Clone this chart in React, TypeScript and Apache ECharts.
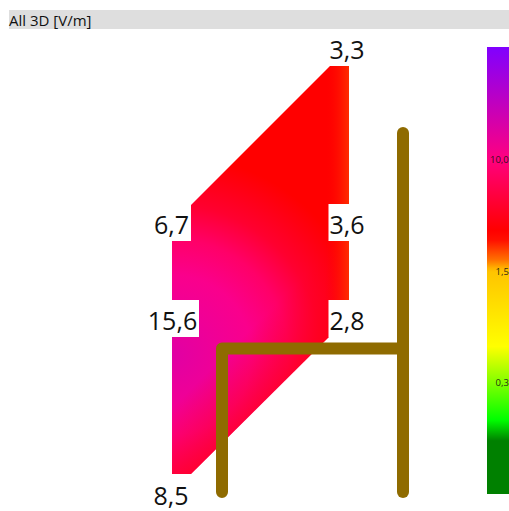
import React, { useEffect, useRef } from "react";
import * as echarts from "echarts";

const titleText = "All 3D [V/m]";
const surfacePoints = [[330, 66], [349, 66], [349, 317], [191, 474], [172, 474], [172, 224]];
const fieldLabels = ["3,3", "6,7", "3,6", "15,6", "2,8", "8,5"];
const labelCentres = [[347, 48.5], [171.5, 223.5], [347, 223.5], [172.5, 319.5], [347, 319.5], [171, 494.5]];
const labelBoxes = [[329, 32, 366, 66], [152, 204, 191, 241], [328.5, 204, 366, 241], [147, 300, 199, 337], [328.5, 300, 366, 337], [152, 478, 190, 511]];
const beamPath = [[222, 492], [222, 348.5], [403, 348.5]];
const postPath = [[403, 133], [403, 492]];
const scaleBand = [[487, 47], [509, 494]];
const scaleLabels = ["10,0", "1,5", "0,3"];
const scaleLabelPos = [[490, 159], [495.5, 271], [495.5, 382]];
const scaleStops: [number, string][] = [
  [0, "#8000ff"], [0.25, "#ff0080"], [0.41, "#ff0000"], [0.432, "#ff1000"], [0.476, "#ff7000"], [0.494, "#ffb000"], [0.503, "#ffc400"],
  [0.67, "#ffff00"], [0.834, "#00ff00"], [0.881, "#008000"], [1, "#008000"],
];

const FONT = "'Open Sans', sans-serif";

function surfaceItem(params: any, api: any) {
  const pts = surfacePoints.map((p) => api.coord(p));
  const c = api.coord([172, 355]);
  const radial = new echarts.graphic.RadialGradient(c[0], c[1], 200, [
    { offset: 0, color: "#e000a4" },
    { offset: 0.2, color: "#ee0098" },
    { offset: 0.4, color: "#fa008c" },
    { offset: 0.58, color: "#ff0068" },
    { offset: 0.75, color: "#ff0030" },
    { offset: 1, color: "#ff0000" },
  ], true as any);
  const edgeA = api.coord([325, 0]);
  const edgeB = api.coord([349, 0]);
  const edge = new echarts.graphic.LinearGradient(edgeA[0], 0, edgeB[0], 0, [
    { offset: 0, color: "rgba(255,0,0,0)" },
    { offset: 1, color: "rgba(255,45,0,1)" },
  ], true as any);
  const diagA = api.coord([246, 334]);
  const diagB = api.coord([289, 377]);
  const diag = new echarts.graphic.LinearGradient(diagA[0], diagA[1], diagB[0], diagB[1], [
    { offset: 0, color: "rgba(255,0,16,0)" },
    { offset: 1, color: "rgba(255,0,16,0.6)" },
  ], true as any);
  return {
    type: "group",
    children: [
      { type: "polygon", shape: { points: pts }, style: { fill: radial } },
      { type: "polygon", shape: { points: pts }, style: { fill: diag } },
      { type: "polygon", shape: { points: pts }, style: { fill: edge } },
    ],
  };
}

function labelItem(params: any, api: any) {
  const i = params.dataIndex;
  const b = labelBoxes[i];
  const a = api.coord([b[0], b[1]]);
  const z = api.coord([b[2], b[3]]);
  const c = api.coord(labelCentres[i]);
  return {
    type: "group",
    children: [
      { type: "rect", shape: { x: a[0], y: a[1], width: z[0] - a[0], height: z[1] - a[1] }, style: { fill: "#ffffff" } },
      {
        type: "text", x: c[0], y: c[1],
        style: { text: fieldLabels[i], font: `25px ${FONT}`, fill: "#111111", align: "center", verticalAlign: "middle" },
      },
    ],
  };
}

function scaleItem(params: any, api: any) {
  const a = api.coord(scaleBand[0]);
  const z = api.coord(scaleBand[1]);
  const grad = new echarts.graphic.LinearGradient(0, 0, 0, 1, scaleStops.map(([offset, color]) => ({ offset, color })));
  const texts = scaleLabels.map((t, i) => {
    const p = api.coord(scaleLabelPos[i]);
    return {
      type: "text", x: p[0], y: p[1],
      style: { text: t, font: `9.5px ${FONT}`, fill: "#111111", opacity: 0.9, align: "left", verticalAlign: "middle" },
    };
  });
  return {
    type: "group",
    children: [
      { type: "rect", shape: { x: a[0], y: a[1], width: z[0] - a[0], height: z[1] - a[1] }, style: { fill: grad } },
      ...texts,
    ],
  };
}

export default function App() {
  const ref = useRef<HTMLDivElement>(null);
  useEffect(() => {
    const chart = echarts.init(ref.current!, undefined, { renderer: "svg" });
    const brown = { color: "#8f6b00", width: 12, cap: "round", join: "round" };
    chart.setOption({
      animation: false,
      grid: { left: 0, right: 0, top: 0, bottom: 0 },
      xAxis: { type: "value", min: 0, max: 509, show: false },
      yAxis: { type: "value", min: 0, max: 511, inverse: true, show: false },
      graphic: [
        { type: "rect", x: 9, y: 10, shape: { width: 500, height: 19 }, style: { fill: "#dedede" } },
        { type: "text", x: 9, y: 19.5, style: { text: titleText, font: `15px ${FONT}`, fill: "#111111", verticalAlign: "middle" } },
      ],
      series: [
        { type: "custom", coordinateSystem: "cartesian2d", clip: false, z: 1, data: [surfacePoints[0]], renderItem: surfaceItem },
        { type: "custom", coordinateSystem: "cartesian2d", clip: false, z: 2, data: labelCentres, renderItem: labelItem },
        { type: "line", z: 3, data: beamPath, symbol: "none", lineStyle: brown, clip: false },
        { type: "line", z: 3, data: postPath, symbol: "none", lineStyle: brown, clip: false },
        { type: "custom", coordinateSystem: "cartesian2d", clip: false, z: 4, data: [scaleBand[0]], renderItem: scaleItem },
      ],
    });
    return () => chart.dispose();
  }, []);
  return <div ref={ref} style={{ position: "fixed", left: 0, top: 0, width: 509, height: 511, background: "#fff" }} />;
}
